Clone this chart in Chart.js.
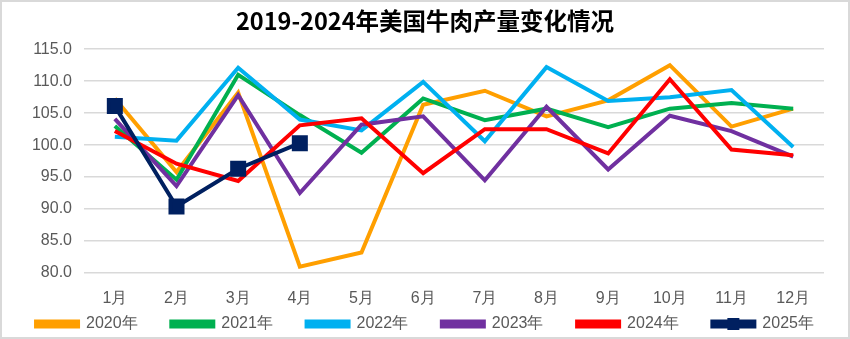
<!DOCTYPE html>
<html>
<head>
<meta charset="utf-8">
<script src="https://cdn.jsdelivr.net/npm/chart.js@4"></script>
<style>
  html, body { margin: 0; padding: 0; background: #fff; }
  #wrap { width: 850px; height: 339px; }
</style>
</head>
<body>
<div id="wrap"><canvas id="beefChart" width="850" height="339"></canvas></div>
<script>
/* US beef production index by month */
const months = ['1月', '2月', '3月', '4月', '5月', '6月', '7月', '8月', '9月', '10月', '11月', '12月'];

const y2020 = [107.3, 95.8, 108.2, 81.0, 83.2, 106.3, 108.5, 104.5, 107.0, 112.5, 102.9, 105.7];
const y2021 = [103.0, 94.6, 111.0, 104.7, 98.8, 107.3, 103.9, 105.7, 102.8, 105.7, 106.6, 105.7];
const y2022 = [101.3, 100.7, 112.1, 104.0, 102.3, 109.9, 100.6, 112.2, 106.9, 107.5, 108.6, 99.7];
const y2023 = [104.1, 93.6, 107.8, 92.5, 103.2, 104.5, 94.5, 106.0, 96.2, 104.6, 102.2, 98.2];
const y2024 = [102.2, 97.1, 94.4, 103.1, 104.2, 95.6, 102.5, 102.5, 98.7, 110.3, 99.3, 98.4];
const y2025 = [106.1, 90.4, 96.3, 100.3];

const seriesNames = ['2020年', '2021年', '2022年', '2023年', '2024年', '2025年'];
const seriesData = [y2020, y2021, y2022, y2023, y2024, y2025];
const seriesColors = ['#FF9F00', '#00B050', '#00B0F0', '#7030A0', '#FF0000', '#002060'];

const labelFont = "'Liberation Sans', Arial, sans-serif";
const lastIdx = seriesNames.length - 1;

const datasets = seriesData.map((d, i) => ({
    label: seriesNames[i],
    data: d,
    borderColor: seriesColors[i],
    backgroundColor: seriesColors[i],
    borderWidth: 4,
    tension: 0,
    pointRadius: i === lastIdx ? 8.5 : 0,
    pointHoverRadius: i === lastIdx ? 8.5 : 0,
    pointStyle: 'rect',
    order: lastIdx - i  // later years drawn on top
}));

// frame round the whole chart, fixed legend height,
// square marker on the 2025 legend swatch
const extras = {
    id: 'extras',
    beforeUpdate(chart) {
        const lg = chart.legend;
        if (lg && !lg._fixedFit) {
            const origFit = lg.fit;
            lg.fit = function () {
                origFit.call(this);
                this.height = 30;
            };
            lg._fixedFit = true;
        }
    },
    beforeDraw(chart) {
        const c = chart.ctx;
        c.save();
        c.fillStyle = '#fff';
        c.fillRect(0, 0, chart.width, chart.height);
        c.strokeStyle = '#D9D9D9';
        c.lineWidth = 2;
        c.strokeRect(1, 1, chart.width - 2, chart.height - 2);
        c.restore();
    },
    afterDraw(chart) {
        const lg = chart.legend;
        const k = lg.legendItems.findIndex(it => it.datasetIndex === lastIdx);
        const b = lg.legendHitBoxes[k];
        if (!b) return;
        const bw = lg.options.labels.boxWidth;
        const c = chart.ctx;
        c.save();
        c.fillStyle = seriesColors[lastIdx];
        c.fillRect(b.left + bw / 2 - 6, b.top + b.height / 2 - 6, 12, 12);
        c.restore();
    }
};

new Chart(document.getElementById('beefChart'), {
    type: 'line',
    data: {
        labels: months,
        datasets: datasets
    },
    options: {
        responsive: false,
        maintainAspectRatio: false,
        animation: false,
        layout: {
            padding: { left: 0, right: 0, top: 4, bottom: 0 }
        },
        scales: {
            x: {
                offset: true,
                grid: { display: false, drawTicks: false },
                border: { display: false },
                afterFit(axis) {
                    axis.height = 36;
                },
                ticks: {
                    color: '#595959',
                    font: { family: labelFont, size: 16 },
                    padding: 16,
                    maxRotation: 0
                }
            },
            y: {
                min: 80,
                max: 115,
                afterFit(axis) {
                    axis.width = 84;
                },
                grid: { color: '#D9D9D9', lineWidth: 1.5, drawTicks: false },
                border: { display: false },
                ticks: {
                    stepSize: 5,
                    autoSkip: false,
                    color: '#595959',
                    font: { family: labelFont, size: 16 },
                    padding: 12,
                    callback: v => v.toFixed(1)
                }
            },
            // empty right axis, only keeps room on the right of the plot
            yRight: {
                position: 'right',
                grid: { display: false },
                border: { display: false },
                ticks: { display: false },
                afterFit(axis) {
                    axis.width = 26;
                }
            }
        },
        plugins: {
            title: {
                display: true,
                text: '2019-2024年美国牛肉产量变化情况',
                color: '#000',
                font: { family: "'Noto Sans CJK SC', sans-serif", size: 23.5, weight: 'bold' },
                padding: { top: 3, bottom: 14 }
            },
            legend: {
                position: 'bottom',
                labels: {
                    boxWidth: 42,
                    boxHeight: 5,
                    color: '#595959',
                    font: { family: labelFont, size: 16 },
                    padding: 7,
                    sort: (a, b) => a.datasetIndex - b.datasetIndex,
                    // trailing spaces widen the gap between entries without
                    // making the legend taller (padding counts vertically too)
                    generateLabels(chart) {
                        const items = Chart.defaults.plugins.legend.labels.generateLabels(chart);
                        items.forEach(it => {
                            if (it.datasetIndex !== lastIdx) it.text = it.text + '      ';
                        });
                        return items;
                    }
                }
            },
            tooltip: { enabled: false }
        }
    },
    plugins: [extras]
});
</script>
</body>
</html>
